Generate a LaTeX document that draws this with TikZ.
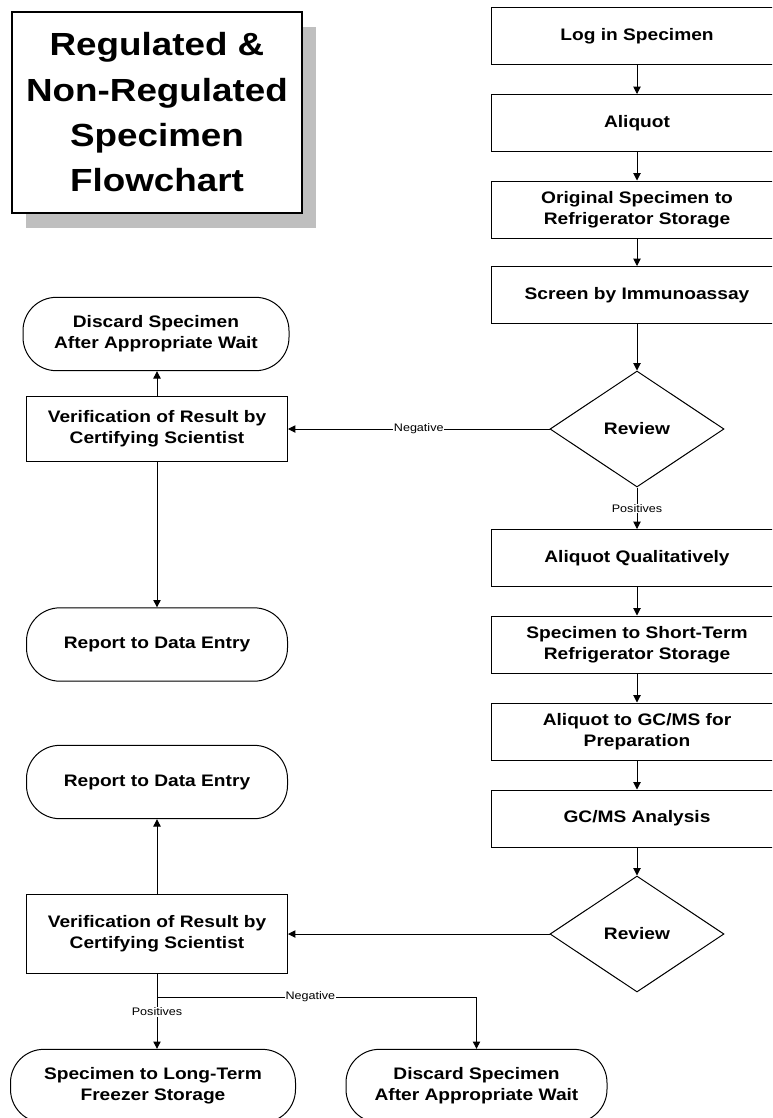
\documentclass[tikz,border=0pt]{standalone}
\usepackage{fontspec}
\setmainfont{Liberation Sans}[FakeStretch=1.15]
\usetikzlibrary{shapes.geometric,arrows.meta,shadows}

\begin{document}
\begin{tikzpicture}[x=0.75pt,y=-0.75pt,
  stepbox/.style={draw,line width=0.75pt,fill=white,minimum width=219pt,minimum height=42.75pt,align=center,font=\fontsize{12.5}{16}\selectfont\bfseries},
  endbox/.style={stepbox,rounded corners=25pt,minimum height=55pt},
  decision/.style={diamond,draw,line width=0.75pt,fill=white,inner sep=0pt,minimum width=130.5pt,minimum height=87pt,font=\fontsize{12.5}{16}\selectfont\bfseries},
  titlebox/.style={draw,line width=0.9pt,fill=white,minimum width=217.5pt,minimum height=150.75pt,align=center,font=\fontsize{24}{34}\selectfont\bfseries,general shadow={fill=black!25,shadow xshift=10.5pt,shadow yshift=-11.25pt}},
  lbl/.style={fill=white,inner sep=0.5pt,font=\fontsize{8.2}{10}\selectfont},
  arr/.style={line width=0.75pt,-{Triangle[length=5.5pt,width=5.5pt]}}]
\clip (0,0) rectangle (772,1118);

\node[titlebox] (title) at (157,112.5) {Regulated \&\\Non-Regulated\\Specimen\\Flowchart};

% main column
\node[stepbox] (login) at (637,36) {Log in Specimen};
\node[stepbox] (aliquot) at (637,123) {Aliquot};
\node[stepbox] (origstore) at (637,209.5) {Original Specimen to\\Refrigerator Storage};
\node[stepbox] (screen) at (637,295) {Screen by Immunoassay};
\node[decision] (review1) at (637,429) {Review};
\node[stepbox] (aliqqual) at (637,558) {Aliquot Qualitatively};
\node[stepbox] (shortstore) at (637,644.5) {Specimen to Short-Term\\Refrigerator Storage};
\node[stepbox] (gcprep) at (637,731.5) {Aliquot to GC/MS for\\Preparation};
\node[stepbox] (gcms) at (637,818.5) {GC/MS Analysis};
\node[decision] (review2) at (637,934) {Review};

% left column
\node[endbox,minimum width=199.5pt] (discard1) at (156,334) {Discard Specimen\\After Appropriate Wait};
\node[stepbox,minimum width=195.75pt,minimum height=48.75pt] (verify1) at (157,429) {Verification of Result by\\Certifying Scientist};
\node[endbox,minimum width=195.75pt] (report1) at (157,644.5) {Report to Data Entry};
\node[endbox,minimum width=195.75pt] (report2) at (157,782) {Report to Data Entry};
\node[stepbox,minimum width=195.75pt,minimum height=59.25pt] (verify2) at (157,934) {Verification of Result by\\Certifying Scientist};
\node[endbox,minimum width=213.75pt] (longterm) at (153,1086) {Specimen to Long-Term\\Freezer Storage};
\node[endbox,minimum width=195.75pt] (discard2) at (476.5,1086) {Discard Specimen\\After Appropriate Wait};
\coordinate (split) at (157,997);

\draw[arr] (login) -- (aliquot);
\draw[arr] (aliquot) -- (origstore);
\draw[arr] (origstore) -- (screen);
\draw[arr] (screen) -- (review1);
\draw[arr] (review1) -- node[lbl]{Positives} (aliqqual);
\draw[arr] (aliqqual) -- (shortstore);
\draw[arr] (shortstore) -- (gcprep);
\draw[arr] (gcprep) -- (gcms);
\draw[arr] (gcms) -- (review2);
\draw[arr] (review1) -- node[lbl]{Negative} (verify1);
\draw[arr] (verify1) -- (discard1.south -| verify1);
\draw[arr] (verify1) -- (report1);
\draw[arr] (review2) -- (verify2);
\draw[arr] (verify2) -- (report2);
\draw[line width=0.75pt] (verify2) -- (split);
\draw[arr] (split) -- node[lbl,pos=0.29]{Positives} (split |- longterm.north);
\draw[arr] (split) -| node[lbl,pos=0.24]{Negative} (discard2.north);
\end{tikzpicture}
\end{document}
